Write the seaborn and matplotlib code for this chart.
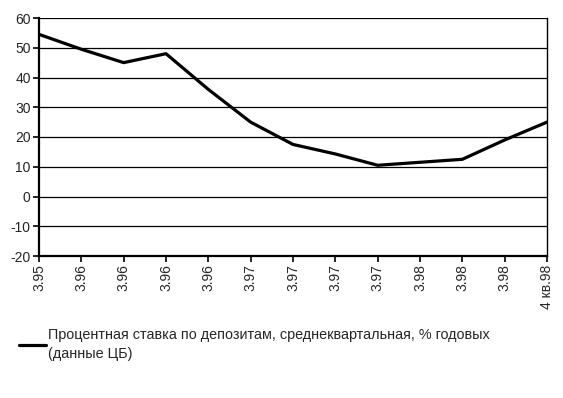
import pandas as pd
import matplotlib
matplotlib.use("Agg")
import matplotlib.pyplot as plt
import seaborn as sns

sns.set_style("white")
plt.rcParams['font.family'] = ['Liberation Sans', 'DejaVu Sans']
plt.rcParams['axes.unicode_minus'] = False

# quarter labels as visible (truncated) on the chart
quarters = ['3.95', '3.96', '3.96', '3.96', '3.96', '3.97', '3.97',
            '3.97', '3.97', '3.98', '3.98', '3.98', '4 кв.98']
rate = [54.5, 49.5, 45, 48, 36, 25, 17.5, 14.3, 10.5, 11.5, 12.5, 19, 25]
series_name = 'Процентная ставка по депозитам, среднеквартальная, % годовых\n(данные ЦБ)'

df = pd.DataFrame({'pos': range(len(quarters)), 'rate': rate})

fig = plt.figure(figsize=(5.63, 3.98), dpi=100)
ax = fig.add_axes([39 / 563, 1 - 256 / 398, 508 / 563, 238 / 398])

sns.lineplot(data=df, x='pos', y='rate', color='black', linewidth=2.3,
             ax=ax, label=series_name)

ax.set_xlim(0, len(quarters) - 1)
ax.set_ylim(-20, 60)
ax.set_yticks(range(-20, 61, 10))
ax.set_xticks(range(len(quarters)))
ax.set_xticklabels(quarters, rotation=90, fontsize=10)
ax.tick_params(axis='y', labelsize=10)
ax.tick_params(direction='out', length=4, width=1.2, color='black', pad=2,
               left=True, bottom=True)
ax.set_xlabel('')
ax.set_ylabel('')

for v in range(-10, 61, 10):
    ax.axhline(v, color='black', linewidth=0.9, zorder=0)

for side in ['left', 'bottom', 'right']:
    ax.spines[side].set_visible(True)
    ax.spines[side].set_color('black')
ax.spines['left'].set_linewidth(1.6)
ax.spines['bottom'].set_linewidth(1.6)
ax.spines['right'].set_linewidth(1.0)
ax.spines['top'].set_visible(False)

leg = ax.legend(loc='upper left', bbox_to_anchor=(12 / 563, 1 - 321 / 398),
                bbox_transform=fig.transFigure, frameon=False, fontsize=10.4,
                handlelength=1.85, handletextpad=0.15, borderpad=0)
for t in leg.get_texts():
    t.set_linespacing(1.45)

fig.savefig('out.png', dpi=100)
